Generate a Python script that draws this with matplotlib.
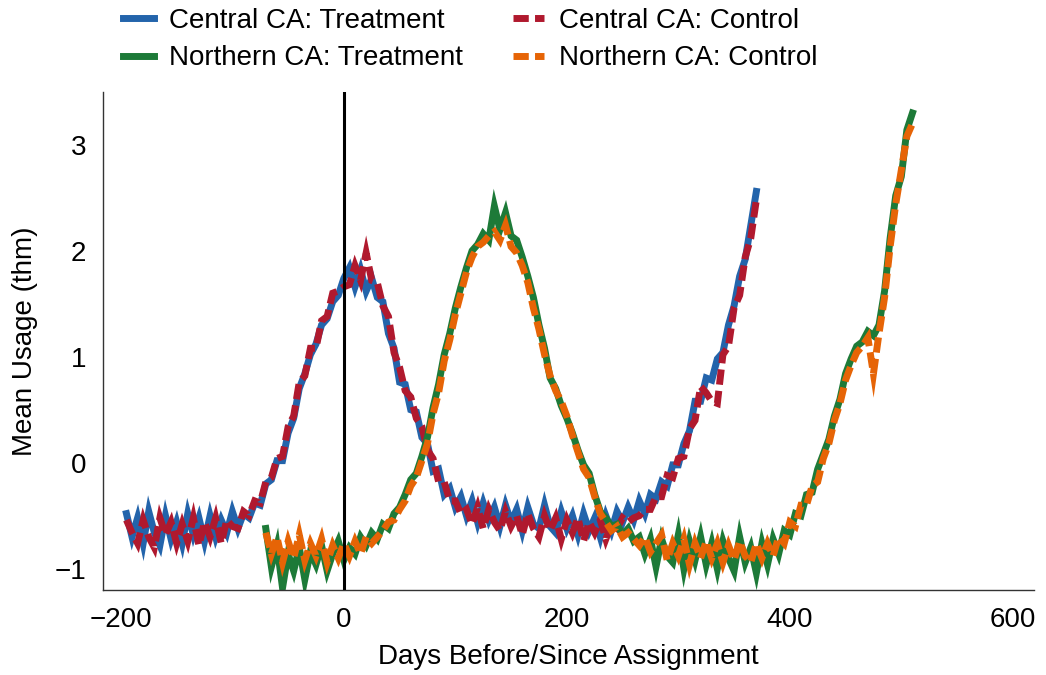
import numpy as np
import matplotlib
matplotlib.use("Agg")
import matplotlib.pyplot as plt

# days relative to assignment, sampled every 5 days
central_days = list(range(-195, 371, 5))
northern_days = list(range(-70, 511, 5))

central_treatment = [
    -0.48, -0.70, -0.52, -0.76, -0.46, -0.66, -0.78, -0.50, -0.72, -0.56,
    -0.76, -0.48, -0.68, -0.52, -0.74, -0.50, -0.70, -0.54, -0.66, -0.46,
    -0.62, -0.48, -0.52, -0.38, -0.40, -0.20, -0.16, 0.02, 0.02, 0.28,
    0.42, 0.70, 0.84, 1.02, 1.12, 1.30, 1.36, 1.52, 1.58, 1.74,
    1.84, 1.66, 1.82, 1.62, 1.74, 1.56, 1.52, 1.22, 1.08, 0.76,
    0.74, 0.50, 0.48, 0.24, 0.18, -0.08, -0.06, -0.30, -0.24, -0.42,
    -0.32, -0.50, -0.36, -0.56, -0.38, -0.54, -0.42, -0.60, -0.40, -0.56,
    -0.44, -0.64, -0.42, -0.58, -0.62, -0.40, -0.60, -0.66, -0.46, -0.62,
    -0.50, -0.68, -0.48, -0.64, -0.52, -0.70, -0.50, -0.64, -0.46, -0.56,
    -0.42, -0.54, -0.36, -0.48, -0.30, -0.34, -0.18, -0.22, -0.02, -0.02,
    0.18, 0.30, 0.58, 0.58, 0.80, 0.78, 0.98, 1.04, 1.30, 1.48,
    1.76, 1.92, 2.24, 2.56,
]
central_control = [
    -0.54, -0.66, -0.76, -0.54, -0.70, -0.80, -0.52, -0.68, -0.56, -0.76,
    -0.58, -0.74, -0.52, -0.78, -0.56, -0.70, -0.52, -0.76, -0.54, -0.60,
    -0.62, -0.46, -0.50, -0.36, -0.38, -0.18, -0.14, 0.04, 0.06, 0.34,
    0.44, 0.76, 0.82, 1.08, 1.08, 1.34, 1.38, 1.60, 1.62, 1.66,
    1.68, 1.86, 1.72, 1.98, 1.72, 1.70, 1.48, 1.38, 1.04, 0.90,
    0.68, 0.62, 0.42, 0.34, 0.12, 0.04, -0.18, -0.18, -0.36, -0.36,
    -0.48, -0.44, -0.58, -0.42, -0.62, -0.44, -0.56, -0.64, -0.46, -0.60,
    -0.50, -0.68, -0.48, -0.62, -0.70, -0.50, -0.64, -0.52, -0.72, -0.54,
    -0.66, -0.52, -0.74, -0.56, -0.66, -0.54, -0.72, -0.58, -0.62, -0.52,
    -0.56, -0.52, -0.50, -0.44, -0.44, -0.32, -0.32, -0.12, -0.14, 0.04,
    0.06, 0.32, 0.40, 0.72, 0.66, 0.58, 0.56, 1.02, 1.10, 1.46,
    1.58, 1.94, 2.12, 2.48,
]
northern_treatment = [
    -0.62, -0.98, -0.78, -1.18, -0.86, -1.02, -0.80, -1.10, -0.84, -0.96,
    -0.78, -1.02, -0.86, -0.74, -0.92, -0.80, -0.86, -0.70, -0.78, -0.66,
    -0.72, -0.58, -0.62, -0.48, -0.42, -0.30, -0.16, -0.10, 0.06, 0.24,
    0.52, 0.74, 1.02, 1.22, 1.46, 1.66, 1.84, 2.00, 2.06, 2.16,
    2.10, 2.42, 2.20, 2.36, 2.14, 2.10, 1.94, 1.76, 1.56, 1.30,
    1.08, 0.80, 0.70, 0.54, 0.42, 0.28, 0.12, -0.02, -0.10, -0.30,
    -0.46, -0.52, -0.60, -0.58, -0.68, -0.62, -0.74, -0.70, -0.86, -0.72,
    -0.98, -0.72, -0.88, -0.94, -0.68, -1.00, -0.74, -0.92, -0.70, -0.96,
    -0.76, -1.00, -0.74, -0.90, -1.02, -0.70, -0.94, -0.80, -1.04, -0.76,
    -0.96, -0.72, -0.86, -0.64, -0.68, -0.48, -0.50, -0.30, -0.28, -0.06,
    0.08, 0.22, 0.44, 0.60, 0.84, 0.98, 1.10, 1.14, 1.24, 1.20,
    1.30, 1.62, 2.12, 2.52, 2.70, 3.14, 3.30,
]
northern_control = [
    -0.66, -0.86, -0.70, -0.94, -0.74, -0.90, -0.68, -0.92, -0.76, -0.88,
    -0.72, -0.94, -0.78, -0.90, -0.76, -0.88, -0.74, -0.86, -0.70, -0.76,
    -0.70, -0.64, -0.56, -0.54, -0.44, -0.36, -0.22, -0.14, 0.02, 0.18,
    0.46, 0.66, 0.96, 1.16, 1.40, 1.60, 1.80, 1.94, 2.04, 2.08,
    2.14, 2.18, 2.10, 2.24, 2.04, 1.98, 1.86, 1.70, 1.46, 1.26,
    1.02, 0.82, 0.68, 0.58, 0.44, 0.26, 0.10, -0.06, -0.14, -0.32,
    -0.48, -0.56, -0.64, -0.60, -0.70, -0.66, -0.72, -0.78, -0.70, -0.84,
    -0.76, -0.68, -0.92, -0.76, -0.88, -0.72, -0.96, -0.76, -0.90, -0.74,
    -0.90, -0.76, -0.94, -0.78, -0.92, -0.74, -0.88, -0.94, -0.76, -0.90,
    -0.76, -0.88, -0.70, -0.76, -0.56, -0.60, -0.40, -0.40, -0.22, -0.18,
    0.04, 0.18, 0.40, 0.56, 0.78, 0.92, 1.04, 1.10, 1.18, 0.84,
    1.22, 1.56, 2.04, 2.44, 2.76, 3.08, 3.20,
]

plt.rcParams["font.family"] = ["Liberation Sans", "DejaVu Sans"]
plt.rcParams["font.size"] = 20

fig = plt.figure(figsize=(10.46, 6.75), dpi=100)
ax = fig.add_axes([0.0985, 0.126, 0.89, 0.738])

lw = 5
style = dict(lw=lw, solid_joinstyle="miter", dash_joinstyle="miter")
h_ct, = ax.plot(central_days, central_treatment, color="#2364ab",
                label="Central CA: Treatment", **style)
h_cc, = ax.plot(central_days, central_control, color="#b0192e",
                ls=(0, (2.2, 0.9)), label="Central CA: Control", **style)
h_nt, = ax.plot(northern_days, northern_treatment, color="#1d7a38",
                label="Northern CA: Treatment", **style)
h_nc, = ax.plot(northern_days, northern_control, color="#e66406",
                ls=(0, (2.2, 0.9)), label="Northern CA: Control", **style)

ax.axvline(0, color="black", lw=2.2, zorder=5)

ax.set_xlim(-216, 619)
ax.set_ylim(-1.2, 3.5)
ax.set_xticks([-200, 0, 200, 400, 600])
ax.set_yticks([-1, 0, 1, 2, 3])
ax.tick_params(length=0, pad=12)
ax.set_xlabel("Days Before/Since Assignment", labelpad=8)
ax.set_ylabel("Mean Usage (thm)", labelpad=12)
for side in ("top", "right"):
    ax.spines[side].set_visible(False)
for side in ("left", "bottom"):
    ax.spines[side].set_linewidth(1.0)
    ax.spines[side].set_color("#333333")

fig.legend(handles=[h_ct, h_nt, h_cc, h_nc], ncol=2, frameon=False,
           loc="upper left", bbox_to_anchor=(0.094, 1.025),
           handlelength=1.1, handletextpad=0.55, columnspacing=1.8,
           labelspacing=0.4)

fig.savefig("out.png", dpi=100)
